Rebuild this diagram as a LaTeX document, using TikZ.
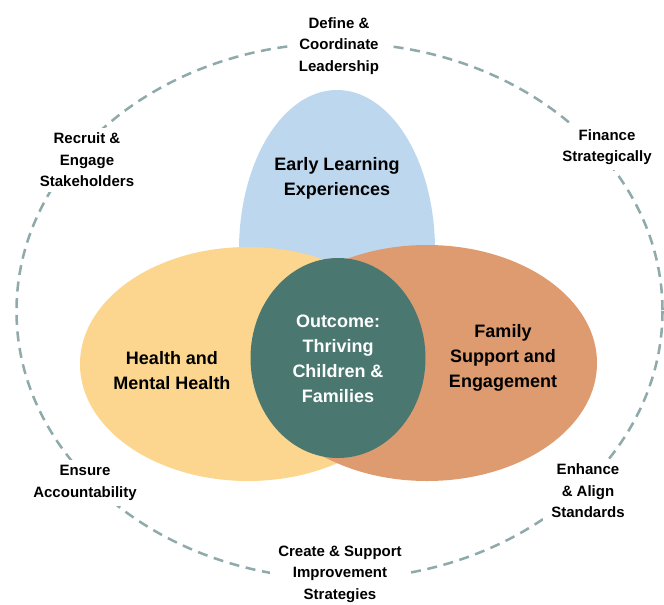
\documentclass[tikz,border=0pt]{standalone}
\usepackage{fontspec}
\setmainfont{Liberation Sans}
\usetikzlibrary{calc}

\definecolor{elblue}{HTML}{BDD7EE}
\definecolor{hlyellow}{HTML}{FCD68E}
\definecolor{fsorange}{HTML}{DE9B6F}
\definecolor{outteal}{HTML}{4A7870}
\definecolor{ringgray}{HTML}{8FAAAA}

\tikzset{
  area/.style={font=\fontsize{13.5}{18.75}\selectfont\bfseries, align=center},
  strat/.style={font=\fontsize{11.25}{16.1}\selectfont\bfseries, align=center,
    fill=white, inner xsep=6pt, inner ysep=4pt},
  ring/.style={draw=ringgray, line width=1.9pt, dash pattern=on 7.5pt off 5pt}
}

\begin{document}
\begin{tikzpicture}[x=0.75pt,y=-0.75pt]
  \useasboundingbox (0,0) rectangle (664,604);

  \coordinate (O) at (339.5,311);
  \coordinate (E) at (337,250);
  \coordinate (H) at (248,364);
  \coordinate (F) at (427,363);
  \coordinate (C) at (338,358);

  % dashed ring of strategies
  \draw[ring] (O) ellipse [x radius=323, y radius=268];

  % the four areas
  \fill[elblue] (E) ellipse [x radius=98, y radius=160];
  \fill[hlyellow] (H) ellipse [x radius=168, y radius=117];
  \fill[fsorange] (F) ellipse [x radius=170, y radius=118];
  \fill[outteal] (C) ellipse [x radius=87.5, y radius=100];

  \node[area] (ell) at (337,178) {Early Learning\\Experiences};
  \node[area] (hmh) at (172,371) {Health and\\Mental Health};
  \node[area] (fse) at (503,358) {Family\\Support and\\Engagement};
  \node[area, text=white] (out) at (338,359) {Outcome:\\Thriving\\Children \&\\Families};

  % labels on the ring
  \node[strat] (lead) at (339,46) {Define \&\\Coordinate\\Leadership};
  \node[strat] (recruit) at (87,160) {Recruit \&\\Engage\\Stakeholders};
  \node[strat] (finance) at (607,147) {Finance\\Strategically};
  \node[strat] (ensure) at (85,483) {Ensure\\Accountability};
  \node[strat] (enhance) at (588,491) {Enhance\\\& Align\\Standards};
  \node[strat] (improve) at (340,574) {Create \& Support\\Improvement\\Strategies};
\end{tikzpicture}
\end{document}
